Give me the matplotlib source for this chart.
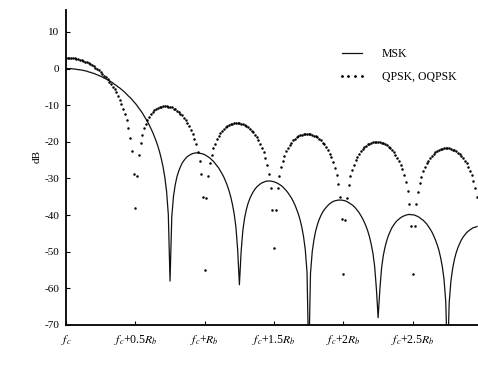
import numpy as np
import matplotlib
matplotlib.use("Agg")
import matplotlib.pyplot as plt
from matplotlib.lines import Line2D

plt.rcParams['font.family'] = ['Liberation Serif', 'DejaVu Serif']
plt.rcParams['mathtext.fontset'] = 'stix'
plt.rcParams['axes.unicode_minus'] = False

# power spectral density, dB, sampled every 0.0125 Rb from fc
freq_step = 0.0125

qpsk_db = [
    3.0, 3.0, 3.0, 2.9, 2.9, 2.8, 2.7, 2.6, 2.4, 2.3,
    2.1, 1.9, 1.7, 1.4, 1.2, 0.9, 0.6, 0.3, -0.1, -0.5,
    -0.9, -1.4, -1.9, -2.4, -2.9, -3.6, -4.2, -4.9, -5.7, -6.5,
    -7.5, -8.5, -9.6, -10.9, -12.4, -14.1, -16.2, -18.9, -22.6, -28.8,
    -38.0, -29.3, -23.5, -20.2, -18.0, -16.3, -15.0, -14.0, -13.1, -12.5,
    -11.9, -11.4, -11.1, -10.8, -10.6, -10.4, -10.3, -10.3, -10.3, -10.4,
    -10.5, -10.6, -10.9, -11.1, -11.5, -11.9, -12.3, -12.8, -13.4, -14.1,
    -14.8, -15.7, -16.7, -17.8, -19.1, -20.7, -22.7, -25.3, -28.9, -35.0,
    -55.0, -35.2, -29.3, -25.9, -23.6, -21.8, -20.5, -19.3, -18.4, -17.6,
    -17.0, -16.5, -16.0, -15.7, -15.4, -15.1, -15.0, -14.9, -14.8, -14.8,
    -14.9, -15.0, -15.2, -15.4, -15.7, -16.0, -16.4, -16.9, -17.4, -18.0,
    -18.7, -19.6, -20.5, -21.6, -22.9, -24.5, -26.4, -28.9, -32.5, -38.5,
    -49.0, -38.7, -32.7, -29.3, -27.0, -25.2, -23.8, -22.6, -21.7, -20.9,
    -20.2, -19.6, -19.2, -18.8, -18.4, -18.2, -18.0, -17.9, -17.8, -17.8,
    -17.8, -17.9, -18.1, -18.3, -18.5, -18.8, -19.2, -19.6, -20.2, -20.7,
    -21.4, -22.2, -23.2, -24.2, -25.5, -27.1, -29.0, -31.5, -35.0, -41.0,
    -56.0, -41.2, -35.2, -31.8, -29.4, -27.6, -26.2, -25.0, -24.0, -23.2,
    -22.5, -21.9, -21.5, -21.1, -20.7, -20.5, -20.3, -20.1, -20.0, -20.0,
    -20.0, -20.1, -20.2, -20.4, -20.6, -20.9, -21.3, -21.7, -22.2, -22.8,
    -23.5, -24.3, -25.2, -26.3, -27.5, -29.0, -31.0, -33.4, -36.9, -43.0,
    -56.0, -43.1, -37.1, -33.7, -31.3, -29.5, -28.0, -26.9, -25.9, -25.1,
    -24.4, -23.8, -23.3, -22.9, -22.5, -22.2, -22.0, -21.9, -21.8, -21.7,
    -21.8, -21.8, -21.9, -22.1, -22.3, -22.6, -23.0, -23.4, -23.9, -24.5,
    -25.1, -25.9, -26.8, -27.9, -29.1, -30.7, -32.6, -35.0,
]

msk_db = [
    0.0, 0.0, 0.0, 0.0, -0.1, -0.1, -0.2, -0.3, -0.3, -0.4,
    -0.5, -0.6, -0.7, -0.9, -1.0, -1.2, -1.3, -1.5, -1.7, -1.9,
    -2.1, -2.3, -2.6, -2.8, -3.1, -3.3, -3.6, -3.9, -4.3, -4.6,
    -5.0, -5.3, -5.7, -6.1, -6.5, -7.0, -7.5, -7.9, -8.4, -9.0,
    -9.5, -10.1, -10.8, -11.4, -12.1, -12.9, -13.7, -14.5, -15.4, -16.4,
    -17.4, -18.6, -19.8, -21.2, -22.8, -24.7, -26.9, -29.7, -33.5, -39.8,
    -58.0, -40.5, -34.8, -31.7, -29.5, -28.0, -26.8, -25.8, -25.1, -24.5,
    -24.0, -23.7, -23.4, -23.2, -23.1, -23.0, -23.0, -23.1, -23.2, -23.3,
    -23.5, -23.8, -24.1, -24.4, -24.9, -25.3, -25.9, -26.5, -27.1, -27.9,
    -28.7, -29.6, -30.7, -31.9, -33.3, -35.0, -37.1, -39.7, -43.3, -49.5,
    -59.0, -49.9, -44.1, -40.8, -38.5, -36.8, -35.5, -34.5, -33.6, -32.9,
    -32.3, -31.9, -31.5, -31.2, -31.0, -30.8, -30.7, -30.7, -30.7, -30.8,
    -30.9, -31.1, -31.3, -31.6, -31.9, -32.3, -32.8, -33.3, -33.9, -34.6,
    -35.3, -36.2, -37.2, -38.4, -39.7, -41.3, -43.3, -45.9, -49.5, -55.6,
    -80.0, -55.9, -50.0, -46.7, -44.3, -42.6, -41.2, -40.1, -39.2, -38.5,
    -37.9, -37.4, -36.9, -36.6, -36.3, -36.1, -36.0, -35.9, -35.9, -35.9,
    -36.0, -36.1, -36.3, -36.6, -36.9, -37.2, -37.6, -38.1, -38.7, -39.3,
    -40.1, -40.9, -41.9, -43.0, -44.3, -45.9, -47.9, -50.4, -54.0, -60.1,
    -68.0, -60.3, -54.4, -51.0, -48.7, -46.9, -45.5, -44.4, -43.4, -42.7,
    -42.0, -41.5, -41.1, -40.7, -40.4, -40.2, -40.0, -39.9, -39.8, -39.9,
    -39.9, -40.0, -40.2, -40.4, -40.7, -41.1, -41.4, -41.9, -42.4, -43.1,
    -43.8, -44.6, -45.6, -46.7, -48.0, -49.5, -51.5, -54.0, -57.5, -63.6,
    -80.0, -63.8, -57.9, -54.5, -52.1, -50.3, -48.9, -47.8, -46.8, -46.0,
    -45.4, -44.8, -44.4, -44.0, -43.7, -43.4, -43.3, -43.1,
]

xtick_pos = [0, 0.5, 1.0, 1.5, 2.0, 2.5]
xtick_labels = [r'$f_c$', r'$f_c$+0.5$R_b$', r'$f_c$+$R_b$',
                r'$f_c$+1.5$R_b$', r'$f_c$+2$R_b$', r'$f_c$+2.5$R_b$']
ytick_pos = [10, 0, -10, -20, -30, -40, -50, -60, -70]

freq = np.arange(len(qpsk_db)) * freq_step

fig = plt.figure(figsize=(4.78, 3.66), dpi=100)
ax = fig.add_axes([66 / 478, 41 / 366, 412 / 478, 315 / 366])

ax.plot(freq, msk_db, color='#111111', lw=0.9)
ax.plot(freq, qpsk_db, linestyle='none', marker='o', ms=1.8,
        mec='none', color='black')

ax.set_xlim(0, 2.97)
ax.set_ylim(-70, 16)

for side in ['top', 'right']:
    ax.spines[side].set_visible(False)
for side in ['left', 'bottom']:
    ax.spines[side].set_linewidth(1.3)

ax.set_xticks(xtick_pos)
ax.set_xticklabels(xtick_labels, fontsize=8.5)
ax.set_yticks(ytick_pos)
ax.set_yticklabels([str(v) for v in ytick_pos], fontsize=8)
ax.tick_params(axis='both', direction='in', length=3, width=0.8)
ax.tick_params(axis='y', pad=5)
ax.tick_params(axis='x', pad=6)

fig.text(37 / 478, 1 - 157 / 366, 'dB', rotation=90, fontsize=8,
         ha='center', va='center')

handles = [
    Line2D([], [], color='#111111', lw=0.9),
    Line2D([], [], linestyle='none', marker='o', ms=2.0, mec='none', color='black'),
]
ax.legend(handles, ['MSK', 'QPSK, OQPSK'], loc='upper left',
          bbox_to_anchor=(338 / 478, 1 - 48 / 366),
          bbox_transform=fig.transFigure, frameon=False, fontsize=8.5,
          numpoints=4, handlelength=2.3, handletextpad=1.4,
          labelspacing=0.95, borderpad=0, borderaxespad=0)

fig.savefig('out.png', dpi=100)
